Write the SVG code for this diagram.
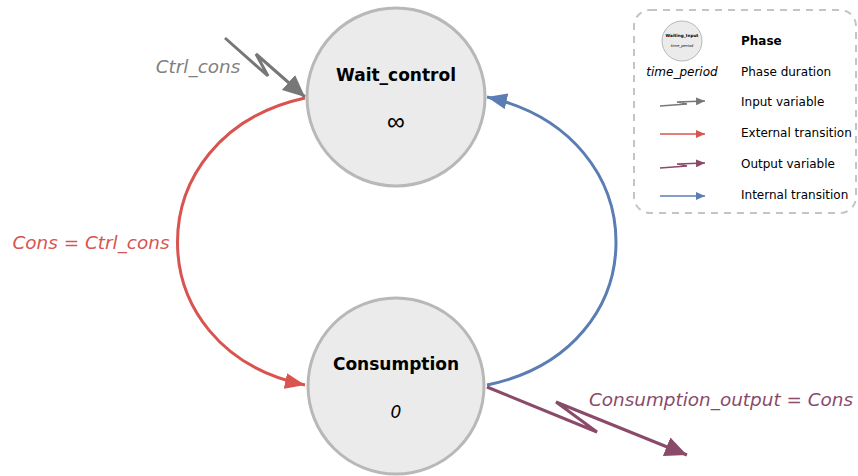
<svg xmlns="http://www.w3.org/2000/svg" width="858" height="476" viewBox="0 0 858 476">
<style>
.node circle{fill:#ebebeb;stroke:#b8b8b8;stroke-width:3}
.title{font-family:"DejaVu Sans",Verdana,sans-serif;font-weight:bold;font-size:17px;text-anchor:middle;fill:#000}
.dur{font-family:"DejaVu Sans",Verdana,sans-serif;font-size:17px;text-anchor:middle;fill:#000}
.lbl{font-family:"DejaVu Sans",Verdana,sans-serif;font-style:italic;font-size:18.4px}
.leg{font-family:"DejaVu Sans",Verdana,sans-serif;font-size:12px;fill:#000}
.conn path{fill:none;stroke-width:3}
</style>
<defs>
<marker id="ag" markerUnits="userSpaceOnUse" markerWidth="24" markerHeight="20" refX="22" refY="10" orient="auto"><path d="M0,0 L22,10 L0,20 Z" fill="#777"/></marker>
<marker id="ar" markerUnits="userSpaceOnUse" markerWidth="22" markerHeight="16" refX="20" refY="8" orient="auto"><path d="M0,0 L20,8 L0,16 Z" fill="#d9534f"/></marker>
<marker id="ab" markerUnits="userSpaceOnUse" markerWidth="22" markerHeight="16" refX="20" refY="8" orient="auto"><path d="M0,0 L20,8 L0,16 Z" fill="#5b7db3"/></marker>
<marker id="ap" markerUnits="userSpaceOnUse" markerWidth="24" markerHeight="20" refX="22" refY="10" orient="auto"><path d="M0,0 L22,10 L0,20 Z" fill="#8a4a6a"/></marker>
<marker id="sg" markerUnits="userSpaceOnUse" markerWidth="10" markerHeight="8" refX="9" refY="4" orient="auto"><path d="M0,0 L9,4 L0,8 Z" fill="#777"/></marker>
<marker id="sr" markerUnits="userSpaceOnUse" markerWidth="10" markerHeight="8" refX="9" refY="4" orient="auto"><path d="M0,0 L9,4 L0,8 Z" fill="#d9534f"/></marker>
<marker id="sp" markerUnits="userSpaceOnUse" markerWidth="10" markerHeight="8" refX="9" refY="4" orient="auto"><path d="M0,0 L9,4 L0,8 Z" fill="#8a4a6a"/></marker>
<marker id="sb" markerUnits="userSpaceOnUse" markerWidth="10" markerHeight="8" refX="9" refY="4" orient="auto"><path d="M0,0 L9,4 L0,8 Z" fill="#5b7db3"/></marker>
</defs>

<g id="connectors" class="conn">
<path d="M305,98 C135,135 135,350 305,385" stroke="#d9534f" stroke-width="3.3" marker-end="url(#ar)"/>
<path d="M487,385 C659,350 659,135 487,97" stroke="#5b7db3" stroke-width="3.3" marker-end="url(#ab)"/>
<path d="M225,38 L268,76 L256,54 L305,97" stroke="#777" stroke-width="4" stroke-linejoin="miter" marker-end="url(#ag)"/>
<path d="M487,387 L597,432 L556,402 L687,455" stroke="#8a4a6a" marker-end="url(#ap)"/>
</g>

<text class="lbl" x="198" y="73" text-anchor="middle" fill="#808080">Ctrl_cons</text>
<text class="lbl" x="91" y="249" text-anchor="middle" fill="#d9534f">Cons = Ctrl_cons</text>
<text class="lbl" x="721" y="406" text-anchor="middle" fill="#8a4a6a">Consumption_output = Cons</text>

<g id="wait_control" class="node">
<circle cx="396" cy="97" r="89"/>
<text class="title" x="396" y="81">Wait_control</text>
<text x="396" y="130" font-family="'Liberation Sans',sans-serif" font-size="25" text-anchor="middle" fill="#000">∞</text>
</g>

<g id="consumption" class="node">
<circle cx="396" cy="386" r="88"/>
<text class="title" x="396" y="370">Consumption</text>
<text class="dur" x="396" y="418" font-style="italic">0</text>
</g>

<g id="legend">
<rect x="634" y="10" width="222" height="203" rx="16" fill="none" stroke="#c4c4c4" stroke-width="2" stroke-dasharray="7,6"/>
<circle cx="682" cy="41" r="20" fill="#ebebeb" stroke="#b8b8b8" stroke-width="1"/>
<text x="682" y="37" font-family="DejaVu Sans,sans-serif" font-size="4.2" font-weight="bold" text-anchor="middle">Waiting_Input</text>
<text x="682" y="47" font-family="DejaVu Sans,sans-serif" font-size="3.8" font-style="italic" text-anchor="middle">time_period</text>
<text x="682" y="76" font-family="DejaVu Sans,sans-serif" font-size="12" font-style="italic" text-anchor="middle">time_period</text>
<text class="leg" x="741" y="45" font-weight="bold">Phase</text>
<text class="leg" x="741" y="76">Phase duration</text>
<text class="leg" x="741" y="106">Input variable</text>
<text class="leg" x="741" y="137">External transition</text>
<text class="leg" x="741" y="168">Output variable</text>
<text class="leg" x="741" y="199">Internal transition</text>
<path d="M660,106 L687,104 L677,102 L705,101" fill="none" stroke="#777" stroke-width="1.3" marker-end="url(#sg)"/>
<path d="M660,134 L705,134" fill="none" stroke="#d9534f" stroke-width="1.3" marker-end="url(#sr)"/>
<path d="M660,168 L687,166 L677,164 L705,163" fill="none" stroke="#8a4a6a" stroke-width="1.3" marker-end="url(#sp)"/>
<path d="M660,196 L705,196" fill="none" stroke="#5b7db3" stroke-width="1.3" marker-end="url(#sb)"/>
</g>
</svg>
